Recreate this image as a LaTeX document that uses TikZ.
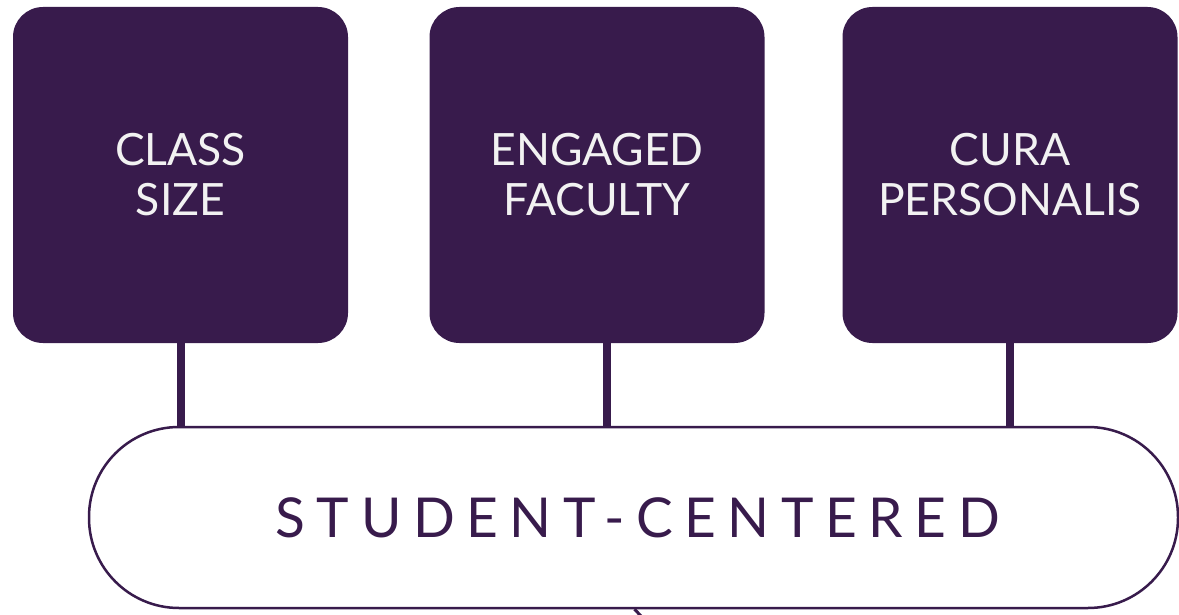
\documentclass[tikz,border=0pt]{standalone}
\usepackage{fontspec}
\setmainfont{Lato}
\newfontfamily\spacedfont[LetterSpace=21]{Lato}
\definecolor{plum}{RGB}{56,27,76}
\definecolor{offwhite}{RGB}{242,242,242}
\tikzset{
  pillar/.style={draw=none, fill=plum, rounded corners=30pt, minimum width=335pt, minimum height=336pt, inner sep=0pt,
    text=offwhite, align=center, font=\fontsize{44.5}{50}\selectfont},
  link/.style={draw=plum, line width=8pt},
  pill/.style={draw=plum, line width=2.5pt, fill=white, rounded corners=90pt, minimum width=1089pt, minimum height=181pt, inner sep=0pt,
    text=plum, font=\spacedfont\fontsize{55}{60}\selectfont}
}
\begin{document}
\begin{tikzpicture}[x=1pt,y=-1pt]
\useasboundingbox (0,0) rectangle (1179,615);
\node[pillar] (b1) at (180.5,175) {CLASS\\SIZE};
\node[pillar] (b2) at (597,175) {ENGAGED\\FACULTY};
\node[pillar] (b3) at (1010,175) {CURA\\PERSONALIS};
\node[pill] (p) at (633.5,517.5) {\hspace*{8pt}STUDENT-CENTERED};
\coordinate (t) at (641,616);
\draw[link] (b1.south) -- (b1.south |- p.north);
\draw[link] ([xshift=10pt]b2.south) -- ([xshift=10pt]b2.south |- p.north);
\draw[link] (b3.south) -- (b3.south |- p.north);
\draw[draw=plum, line width=3pt] ([xshift=1pt]p.south) -- (t);
\end{tikzpicture}
\end{document}
